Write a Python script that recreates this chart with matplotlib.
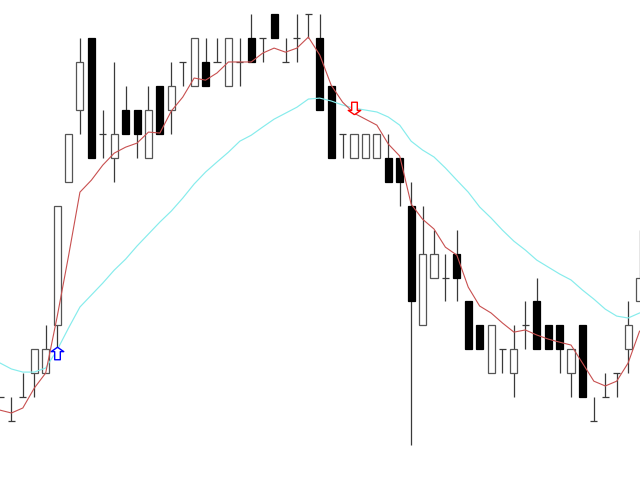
import matplotlib
matplotlib.use("Agg")
import matplotlib.pyplot as plt
import numpy as np
from matplotlib.path import Path

# price in grid steps (one step = one tick level on the chart)
opens  = [2, 1, 2, 3, 3, 5, 11, 14, 17, 13, 12, 14, 14, 12, 15, 14, 16, 15, 16, 16,
          15, 16, 17, 17, 18, 16, 17, 18, 17, 15, 13, 12, 12, 12, 12, 12, 10, 5, 7, 7,
          8, 6, 5, 3, 4, 3, 5, 6, 5, 5, 3, 5, 1, 2, 3, 4, 6]
highs  = [2, 2, 3, 4, 5, 10, 13, 17, 17, 14, 16, 15, 14, 15, 15, 16, 16, 17, 17, 17,
          17, 17, 18, 17, 18, 17, 18, 18, 18, 15, 13, 13, 13, 13, 13, 12, 11, 10, 9, 8,
          9, 6, 5, 5, 4, 5, 6, 7, 5, 5, 4, 5, 2, 3, 3, 6, 9]
lows   = [2, 1, 2, 2, 3, 4, 11, 13, 12, 12, 11, 13, 12, 12, 13, 13, 15, 15, 15, 16,
          15, 15, 16, 16, 17, 16, 16, 17, 14, 12, 12, 12, 12, 12, 11, 10, 0, 5, 7, 6,
          6, 4, 4, 3, 3, 2, 4, 4, 4, 3, 2, 2, 1, 2, 2, 3, 6]
closes = [2, 1, 2, 4, 4, 10, 13, 16, 12, 13, 13, 13, 13, 14, 13, 15, 16, 17, 15, 16,
          17, 16, 16, 17, 17, 16, 17, 18, 14, 12, 13, 13, 13, 13, 11, 11, 6, 8, 8, 7,
          7, 4, 4, 5, 4, 4, 5, 4, 4, 4, 4, 2, 1, 2, 3, 5, 7]

ma_fast = [1.46, 1.34, 1.55, 2.38, 3.01, 5.35, 7.90, 10.57, 11.07, 11.70, 12.20, 12.45,
           12.62, 13.08, 13.04, 13.96, 14.54, 15.34, 15.25, 15.55, 16.01, 16.01, 16.01,
           16.38, 16.59, 16.42, 16.59, 17.05, 16.30, 15.04, 14.33, 13.87, 13.62, 13.37,
           12.58, 12.08, 10.07, 9.44, 9.03, 8.27, 7.94, 6.60, 5.81, 5.52, 5.10, 4.72,
           4.81, 4.60, 4.43, 4.30, 4.18, 3.43, 2.67, 2.47, 2.67, 3.43, 4.76]
ma_slow = [3.43, 3.18, 3.05, 3.05, 3.22, 3.97, 4.89, 5.77, 6.27, 6.77, 7.31, 7.77,
           8.32, 8.82, 9.32, 9.78, 10.32, 10.91, 11.41, 11.83, 12.24, 12.70, 12.95,
           13.29, 13.62, 13.87, 14.12, 14.46, 14.50, 14.38, 14.21, 14.08, 14.00, 13.92,
           13.71, 13.37, 12.70, 12.33, 12.04, 11.58, 11.07, 10.57, 9.95, 9.49, 8.98,
           8.52, 8.15, 7.73, 7.44, 7.15, 6.90, 6.48, 6.10, 5.68, 5.39, 5.31, 5.52]

buy_idx, buy_price = [5], [3.84]
sell_idx, sell_price = [31], [14.08]

o = np.array(opens, float)
h = np.array(highs, float)
l = np.array(lows, float)
c = np.array(closes, float)
x = np.arange(len(o))
w = 0.62

fig = plt.figure(figsize=(6.4, 4.8), dpi=100)
ax = fig.add_axes([0, 0, 1, 1])
ax.set_facecolor("white")

# wicks
ax.vlines(x, l, h, color="#3a3a3a", lw=0.9, zorder=2)

up = c > o
dn = c < o
dj = c == o
ax.bar(x[up], (c - o)[up], bottom=o[up], width=w, color="white",
       edgecolor="#555555", lw=0.9, zorder=3)
ax.bar(x[dn], (o - c)[dn], bottom=c[dn], width=w, color="black",
       edgecolor="black", lw=0.9, zorder=3)
ax.hlines(o[dj], x[dj] - w / 2, x[dj] + w / 2, color="#3a3a3a", lw=0.9, zorder=3)

ax.plot(x, ma_slow, color="#86ecec", lw=0.85, zorder=4)
ax.plot(x, ma_fast, color="#c85050", lw=0.8, zorder=5)

# hollow block arrows
up_arrow = Path([(0, 1), (1, 0.3), (0.45, 0.3), (0.45, -1), (-0.45, -1),
                 (-0.45, 0.3), (-1, 0.3), (0, 1)])
dn_arrow = Path([(0, -1), (1, -0.3), (0.45, -0.3), (0.45, 1), (-0.45, 1),
                 (-0.45, -0.3), (-1, -0.3), (0, -1)])
ax.plot(buy_idx, buy_price, marker=up_arrow, ms=9, mfc="white", mec="#0000ff",
        mew=1.0, ls="none", zorder=6)
ax.plot(sell_idx, sell_price, marker=dn_arrow, ms=9, mfc="white", mec="#ff0000",
        mew=1.0, ls="none", zorder=6)

ax.set_xlim(0, 56.04)
ax.set_ylim(-1.46, 18.60)
ax.axis("off")

fig.savefig("out.png", dpi=100, facecolor="white")
